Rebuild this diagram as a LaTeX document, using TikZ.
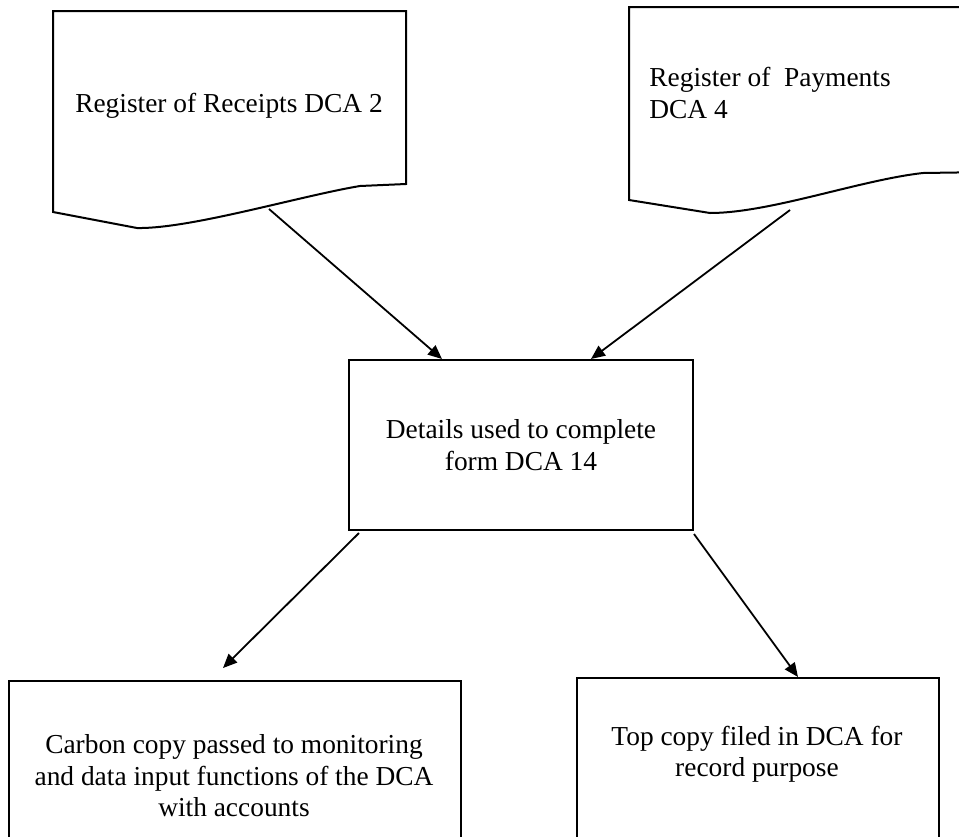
\documentclass[tikz,border=0pt]{standalone}
\usepackage{fontspec}
\setmainfont{Liberation Serif}
\usetikzlibrary{arrows.meta}
\begin{document}
\begin{tikzpicture}[x=0.5pt,y=-0.5pt,
  edgeline/.style={draw=black, line width=1pt},
  box/.style={edgeline, rectangle, inner sep=0pt},
  txt/.style={inner sep=0pt, font=\fontsize{13.7pt}{15.7pt}\selectfont, align=center},
  flow/.style={draw=black, line width=0.9pt, -{Triangle[length=7pt,width=6pt]}}]
\clip (0,0) rectangle (959,836);
\fill[white] (0,0) rectangle (959,836);

% document symbol: Register of Receipts
\draw[edgeline, line join=miter] (53,212) -- (53,11) -- (406,11) -- (406,184) -- (360,186)
  .. controls (300,196) and (190,229) .. (137,228) -- cycle;
\node[txt] (receipts) at (229,106) {Register of Receipts DCA 2};
\coordinate (receiptsout) at (269,209);

% document symbol: Register of Payments (runs off the right edge)
\draw[edgeline, line join=miter] (629,200) -- (629,7) -- (990,7) -- (990,172) -- (923,173)
  .. controls (860,180) and (770,213) .. (710,213) -- cycle;
\node[txt, align=left, anchor=west] (payments) at (649,93) {Register of\ \ Payments\\DCA 4};
\coordinate (paymentsout) at (790,210);

% central process box
\node[box, txt, minimum width=172pt, minimum height=85pt] (mid) at (521,445)
  {Details used to complete\\form DCA 14};

% lower boxes (their bottoms run past the page edge)
\node[box, minimum width=226pt, minimum height=120pt, anchor=north west] (lbox) at (8,680) {};
\node[txt] (ltext) at (234,776) {Carbon copy passed to monitoring\\and data input functions of the DCA\\with accounts};
\node[box, minimum width=181pt, minimum height=120pt, anchor=north west] (rbox) at (576,677) {};
\node[txt] (rtext) at (757,754) {Top copy filed in DCA for\\record purpose};

% connectors
\draw[flow] (receiptsout) -- ([xshift=47pt]mid.north west);
\draw[flow] (paymentsout) -- ([xshift=121.5pt]mid.north west);
\draw[flow] ([xshift=5.5pt,yshift=-1pt]mid.south west) -- ([xshift=107.5pt,yshift=6pt]lbox.north west);
\draw[flow] ([yshift=-1.5pt]mid.south east) -- ([xshift=111pt]rbox.north west);
\end{tikzpicture}
\end{document}
